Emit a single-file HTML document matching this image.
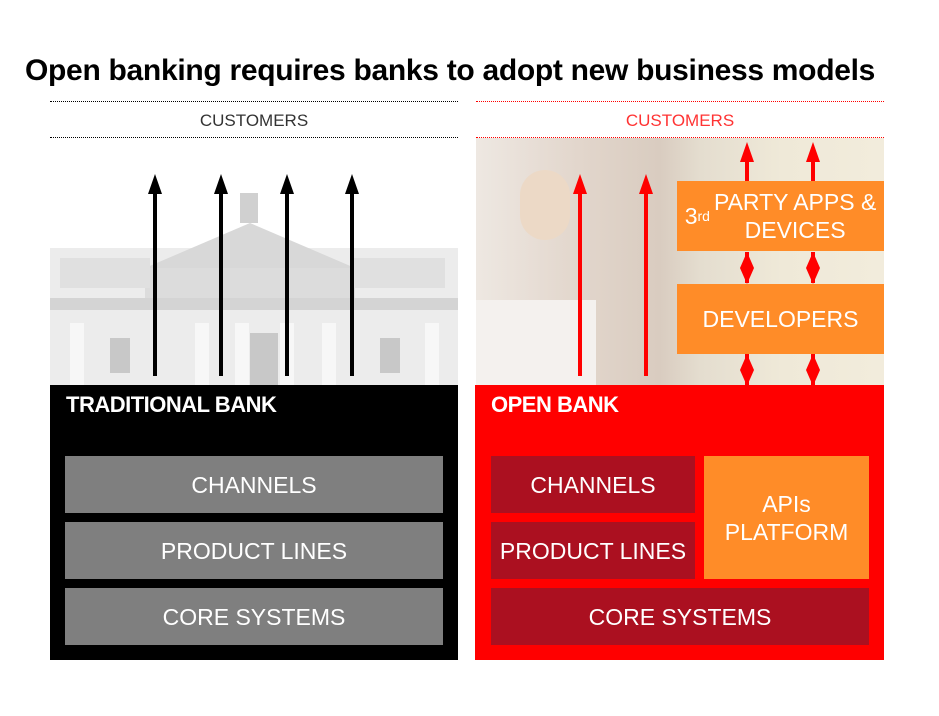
<!DOCTYPE html>
<html><head><meta charset="utf-8"><style>
*{margin:0;padding:0;box-sizing:border-box}
body{width:939px;height:716px;background:#fff;position:relative;overflow:hidden;font-family:"Liberation Sans",sans-serif}
.a{position:absolute}
.t{display:flex;align-items:center;justify-content:center;text-align:center;color:#fff;font-size:23px;line-height:28px}
.dl{position:absolute;height:0;border-top:1.5px dotted #000}
</style></head><body>
<div class="a" style="left:25px;top:54px;font-size:30px;font-weight:bold;color:#000;white-space:nowrap;letter-spacing:-0.3px">Open banking requires banks to adopt new business models</div>

<div class="dl" style="left:50px;top:101px;width:408px"></div>
<div class="dl" style="left:50px;top:137px;width:408px"></div>
<div class="a" style="left:50px;top:111px;width:408px;text-align:center;font-size:17px;color:#333">CUSTOMERS</div>
<div class="dl" style="left:476px;top:101px;width:408px;border-color:#f00"></div>
<div class="dl" style="left:476px;top:137px;width:408px;border-color:#f00"></div>
<div class="a" style="left:476px;top:111px;width:408px;text-align:center;font-size:17px;color:#f33">CUSTOMERS</div>

<!-- building -->
<svg class="a" style="left:50px;top:138px" width="408" height="247">
<rect width="408" height="247" fill="#fff"/>
<rect x="0" y="110" width="408" height="137" fill="#ececec"/>
<polygon points="95,130 200,85 305,130" fill="#d8d8d8"/>
<rect x="95" y="130" width="210" height="30" fill="#dcdcdc"/>
<rect x="10" y="120" width="90" height="30" fill="#e0e0e0"/>
<rect x="300" y="120" width="95" height="30" fill="#e0e0e0"/>
<rect x="0" y="160" width="408" height="12" fill="#d4d4d4"/>
<g fill="#f7f7f7"><rect x="145" y="185" width="14" height="62"/><rect x="185" y="185" width="14" height="62"/><rect x="230" y="185" width="14" height="62"/><rect x="272" y="185" width="14" height="62"/><rect x="20" y="185" width="14" height="62"/><rect x="375" y="185" width="14" height="62"/></g>
<g fill="#c8c8c8"><rect x="60" y="200" width="20" height="35"/><rect x="330" y="200" width="20" height="35"/><rect x="200" y="195" width="28" height="52"/></g>
<rect x="190" y="55" width="18" height="30" fill="#d0d0d0"/>
</svg>
<!-- photo -->
<div class="a" style="left:476px;top:138px;width:408px;height:247px;background:linear-gradient(90deg,#eee8e2 0%,#e2d6cc 25%,#d9ccc0 45%,#e4ddcf 55%,#efe9d8 75%,#f2ecdc 100%)"></div>
<div class="a" style="left:476px;top:300px;width:120px;height:85px;background:#f4f1ee"></div>
<div class="a" style="left:520px;top:170px;width:50px;height:70px;border-radius:25px;background:#ecd9c6"></div>

<svg class="a" style="left:0;top:0" width="939" height="716">
<g stroke="#000" stroke-width="4">
<line x1="155" y1="376" x2="155" y2="190"/><line x1="221" y1="376" x2="221" y2="190"/><line x1="287" y1="376" x2="287" y2="190"/><line x1="352" y1="376" x2="352" y2="190"/></g>
<g fill="#000"><path d="M148,194 L155,174 L162,194z"/><path d="M214,194 L221,174 L228,194z"/><path d="M280,194 L287,174 L294,194z"/><path d="M345,194 L352,174 L359,194z"/></g>
<g stroke="#f00" stroke-width="4">
<line x1="580" y1="376" x2="580" y2="190"/><line x1="646" y1="376" x2="646" y2="190"/>
<line x1="747" y1="181" x2="747" y2="158"/><line x1="813" y1="181" x2="813" y2="158"/>
<line x1="747" y1="252" x2="747" y2="283"/><line x1="813" y1="252" x2="813" y2="283"/>
<line x1="747" y1="354" x2="747" y2="385"/><line x1="813" y1="354" x2="813" y2="385"/></g>
<g fill="#f00">
<path d="M573,194 L580,174 L587,194z"/><path d="M639,194 L646,174 L653,194z"/>
<path d="M740,162 L747,142 L754,162z"/><path d="M806,162 L813,142 L820,162z"/>
<path d="M740,268 L747,252 L754,268z M740,268 L747,284 L754,268z"/><path d="M806,268 L813,252 L820,268z M806,268 L813,284 L820,268z"/>
<path d="M740,370 L747,354 L754,370z M740,370 L747,386 L754,370z"/><path d="M806,370 L813,354 L820,370z M806,370 L813,386 L820,370z"/>
</g>
</svg>

<div class="a t" style="left:677px;top:181px;width:207px;height:70px;background:#ff8c28">3<sup style="font-size:14px;line-height:0;margin-right:4px">rd</sup> PARTY APPS &amp;<br>DEVICES</div>
<div class="a t" style="left:677px;top:284px;width:207px;height:70px;background:#ff8c28">DEVELOPERS</div>

<div class="a" style="left:50px;top:385px;width:408px;height:275px;background:#000"></div>
<div class="a" style="left:66px;top:392px;color:#fff;font-weight:bold;font-size:22px;letter-spacing:-0.5px">TRADITIONAL BANK</div>
<div class="a t" style="left:65px;top:456px;width:378px;height:57px;background:#7f7f7f">CHANNELS</div>
<div class="a t" style="left:65px;top:522px;width:378px;height:57px;background:#7f7f7f">PRODUCT LINES</div>
<div class="a t" style="left:65px;top:588px;width:378px;height:57px;background:#7f7f7f">CORE SYSTEMS</div>

<div class="a" style="left:475px;top:385px;width:409px;height:275px;background:#ff0000"></div>
<div class="a" style="left:491px;top:392px;color:#fff;font-weight:bold;font-size:22px;letter-spacing:-0.5px">OPEN BANK</div>
<div class="a t" style="left:491px;top:456px;width:204px;height:57px;background:#ab1020">CHANNELS</div>
<div class="a t" style="left:491px;top:522px;width:204px;height:57px;background:#ab1020">PRODUCT LINES</div>
<div class="a t" style="left:704px;top:456px;width:165px;height:123px;background:#ff8c28">APIs<br>PLATFORM</div>
<div class="a t" style="left:491px;top:588px;width:378px;height:57px;background:#ab1020">CORE SYSTEMS</div>
</body></html>
